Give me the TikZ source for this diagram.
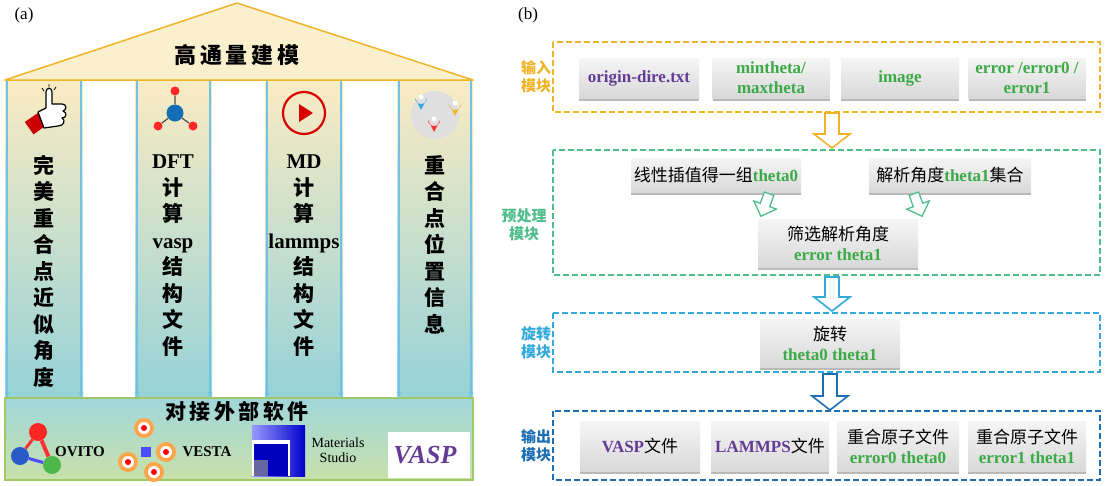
\documentclass[tikz,border=0pt]{standalone}
\usepackage{fontspec}
\setmainfont{Liberation Serif}
\newfontfamily\cjk{Noto Sans CJK SC}
\usetikzlibrary{arrows.meta,shapes.geometric}
\definecolor{gtxt}{RGB}{60,170,70}
\definecolor{ptxt}{RGB}{100,60,150}
\definecolor{orn}{RGB}{240,180,40}
\definecolor{grn}{RGB}{80,190,140}
\definecolor{cyn}{RGB}{50,170,220}
\definecolor{dbl}{RGB}{30,110,180}
\definecolor{roof}{RGB}{250,240,205}
\definecolor{coltop}{RGB}{250,235,195}
\definecolor{colbot}{RGB}{150,210,215}
\definecolor{basebot}{RGB}{200,225,170}
\definecolor{baseedge}{RGB}{160,200,100}
\definecolor{molblue}{RGB}{20,110,180}
\definecolor{ovblue}{RGB}{40,90,200}
\begin{document}
\begin{tikzpicture}[x=1pt,y=-1pt,
  col/.style={top color=coltop,bottom color=colbot,draw=none},
  ctext/.style={font=\cjk\bfseries\fontsize{21}{26.5}\selectfont,align=center,anchor=north,inner sep=0},
  gbox/.style={draw=none,top color=gray!8,bottom color=gray!30,minimum height=#1,inner sep=1pt,align=center,font=\bfseries\fontsize{17}{20}\selectfont},
  gbox/.default=40pt,
  dbox/.style={draw=#1,line width=1.8pt,dash pattern=on 6pt off 3pt},
  lab/.style={font=\cjk\bfseries\fontsize{15}{18}\selectfont,align=center,text=#1},
  harr/.style={draw=#1,line width=1.6pt,fill=white,line join=miter},
  earr/.style={draw=cyn!70,line width=1.2pt,-{Stealth[length=6pt]}},
  ck/.style={font=\cjk\fontsize{16}{20}\selectfont},
  shadowed/.style={preaction={fill=gray!55,transform canvas={yshift=-3pt}}}]
\useasboundingbox (0,0) rectangle (1107,485);
\fill[white] (0,0) rectangle (1107,485);
% ---------- panel (a)
\node[font=\fontsize{17}{20}\selectfont] (la) at (24,15) {(a)};
\draw[orn,line width=1.5pt,fill=roof,line join=round] (5,80) -- (237,3) -- (473,80) -- cycle;
\node[font=\cjk\bfseries\fontsize{22}{24}\selectfont] (roofT) at (237,55) {高\,通\,量\,建\,模};
\foreach \a/\b/\n in {5/83/c1,135/212/c2,265/343/c3,397/473/c4}{
  \fill[col] (\a,81) rectangle (\b,397);
  \draw[earr] (\a+2,81) -- (\a+2,398);
  \draw[earr] (\b-2,81) -- (\b-2,398);
}
\fill[top color=colbot!90,bottom color=basebot] (5,398) rectangle (473,480);
\draw[baseedge,line width=1.5pt] (5,398) rectangle (473,480);
\node[ctext] (t1) at (44,155) {完\\美\\重\\合\\点\\近\\似\\角\\度};
\node[ctext] (t2) at (173,155) {\rmfamily DFT\\计\\算\\\rmfamily vasp\\结\\构\\文\\件};
\node[ctext] (t3) at (304,155) {\rmfamily MD\\计\\算\\\rmfamily lammps\\结\\构\\文\\件};
\node[ctext] (t4) at (435,155) {重\\合\\点\\位\\置\\信\\息};
% icons
\fill[red!80!black,rotate around={35:(36,124)}] (28,116) rectangle (44,131);
\draw[black,fill=white,line width=1.2pt,line join=round] (38,112) -- (46,108) -- (46,92) .. controls (46,87) and (52,87) .. (52,92) -- (52,104) -- (62,104) .. controls (67,104) and (67,110) .. (63,111) .. controls (67,112) and (67,118) .. (62,118) .. controls (66,120) and (64,126) .. (58,126) -- (44,128) -- cycle;
\draw[black,line width=0.8pt] (42,88)--(44,91) (49,84)--(49,87) (56,87)--(54,90);
\node[circle,fill=red!85,minimum size=9pt,inner sep=0] (m1) at (175,91) {};
\node[circle,fill=red!85,minimum size=9pt,inner sep=0] (m2) at (158,126) {};
\node[circle,fill=red!85,minimum size=9pt,inner sep=0] (m3) at (193,126) {};
\node[circle,fill=molblue,minimum size=17pt,inner sep=0] (m0) at (175,113) {};
\draw[black!70,line width=1.2pt] (m0) -- (m1) (m0) -- (m2) (m0) -- (m3);
\node[circle,draw=red!85!black,line width=2.2pt,minimum size=42pt,inner sep=0] (play) at (304,113) {};
\fill[red!85!black] (299,104) -- (313,113) -- (299,122) -- cycle;
\node[circle,fill=gray!25,minimum size=48pt,inner sep=0] (globe) at (435,115) {};
\foreach \x/\y/\c in {421/94/cyn,455/100/orn,434/116/red!80}{
  \fill[\c] (\x,\y+16) -- (\x-6,\y+4) arc (180:0:6) -- cycle;
  \fill[white] (\x,\y+3) circle (2.5);
}
\node[font=\cjk\bfseries\fontsize{21}{24}\selectfont] (dock) at (237,411) {对\,接\,外\,部\,软\,件};
% logos
\node[circle,fill=red!85,minimum size=18pt,inner sep=0] (o1) at (38,432) {};
\node[circle,fill=ovblue,minimum size=18pt,inner sep=0] (o2) at (20,456) {};
\node[circle,fill=green!60!black!70,minimum size=18pt,inner sep=0] (o3) at (52,465) {};
\draw[red!80,line width=4pt] (o1) -- (o3); \draw[red!80,line width=3pt] (o1)--(o2); \draw[blue!70,line width=3pt] (o2)--(o3);
\node[font=\bfseries\fontsize{15}{17}\selectfont] (ovito) at (80,452) {OVITO};
\foreach \x/\y in {144/428,166/452,154/472,128/462}{\fill[orange!70] (\x,\y) circle (10); \fill[white] (\x,\y) circle (6); \fill[red] (\x,\y) circle (3);}
\node[fill=blue!70,minimum size=10pt,inner sep=0] (vc) at (146,452) {};
\node[font=\bfseries\fontsize{15}{17}\selectfont] (vesta) at (207,452) {VESTA};
\fill[left color=blue!40,right color=blue!80!black] (252,425) rectangle (305,476);
\fill[white] (252,440) rectangle (290,476);
\fill[blue!75!black] (254,444) rectangle (288,476);
\fill[blue!40!black!60] (254,460) rectangle (268,476);
\node[font=\fontsize{14}{15}\selectfont,align=center] (ms) at (338,450) {Materials\\Studio};
\fill[white] (388,432) rectangle (470,478);
\node[font=\bfseries\itshape\fontsize{26}{26}\selectfont,text=ptxt] (vasp) at (425,455) {VASP};
% ---------- panel (b)
\node[font=\fontsize{17}{20}\selectfont] (lb) at (528,15) {(b)};
\draw[dbox=orn] (553,42) rectangle (1100,112);
\draw[dbox=grn] (553,150) rectangle (1100,275);
\draw[dbox=cyn] (553,313) rectangle (1100,372);
\draw[dbox=dbl] (553,411) rectangle (1100,480);
\node[lab=orn] (L1) at (536,77) {输入\\模块};
\node[lab=grn] (L2) at (524,225) {预处理\\模块};
\node[lab=cyn] (L3) at (536,343) {旋转\\模块};
\node[lab=dbl] (L4) at (536,446) {输出\\模块};
\node[gbox=40pt,minimum width=120pt,shadowed,text=ptxt] (i1) at (639,78) {origin-dire.txt};
\node[gbox=40pt,minimum width=117pt,shadowed,text=gtxt] (i2) at (771,78) {mintheta/\\maxtheta};
\node[gbox=40pt,minimum width=118pt,shadowed,text=gtxt] (i3) at (900,78) {image};
\node[gbox=40pt,minimum width=117pt,shadowed,text=gtxt] (i4) at (1027,78) {error /error0 /\\error1};
\node[gbox=34pt,minimum width=170pt,shadowed] (p1) at (716,175) {{\cjk\mdseries 线性插值得一组}\textcolor{gtxt}{theta0}};
\node[gbox=34pt,minimum width=162pt,shadowed] (p2) at (950,175) {{\cjk\mdseries 解析角度}\textcolor{gtxt}{theta1}{\cjk\mdseries 集合}};
\node[gbox=48pt,minimum width=160pt,shadowed] (p3) at (838,243) {{\cjk\mdseries 筛选解析角度}\\\textcolor{gtxt}{error theta1}};
\node[gbox=48pt,minimum width=140pt,shadowed] (r1) at (830,343) {{\cjk\mdseries 旋转}\\\textcolor{gtxt}{theta0 theta1}};
\node[gbox=50pt,minimum width=120pt,shadowed] (o1b) at (640,446) {\textcolor{ptxt}{VASP}{\cjk\mdseries 文件}};
\node[gbox=50pt,minimum width=118pt,shadowed] (o2b) at (770,446) {\textcolor{ptxt}{LAMMPS}{\cjk\mdseries 文件}};
\node[gbox=50pt,minimum width=122pt,shadowed] (o3b) at (898,446) {{\cjk\mdseries 重合原子文件}\\\textcolor{gtxt}{error0 theta0}};
\node[gbox=50pt,minimum width=118pt,shadowed] (o4b) at (1027,446) {{\cjk\mdseries 重合原子文件}\\\textcolor{gtxt}{error1 theta1}};
% hollow arrows
\newcommand\hollowarr[4]{%
  \draw[harr=#4] (#1-7,#2) -- (#1+7,#2) -- (#1+7,#3-14) -- (#1+18,#3-14) -- (#1,#3) -- (#1-18,#3-14) -- (#1-7,#3-14) -- cycle;}
\hollowarr{832}{113}{148}{orn}
\hollowarr{832}{277}{311}{cyn}
\hollowarr{830}{374}{410}{dbl}
\begin{scope}[shift={(765,205)},rotate=-20]
\draw[harr=grn,line width=1.3pt] (-5,-12) -- (5,-12) -- (5,0) -- (12,0) -- (0,12) -- (-12,0) -- (-5,0) -- cycle;
\end{scope}
\begin{scope}[shift={(918,205)},rotate=20]
\draw[harr=grn,line width=1.3pt] (-5,-12) -- (5,-12) -- (5,0) -- (12,0) -- (0,12) -- (-12,0) -- (-5,0) -- cycle;
\end{scope}
\end{tikzpicture}
\end{document}
